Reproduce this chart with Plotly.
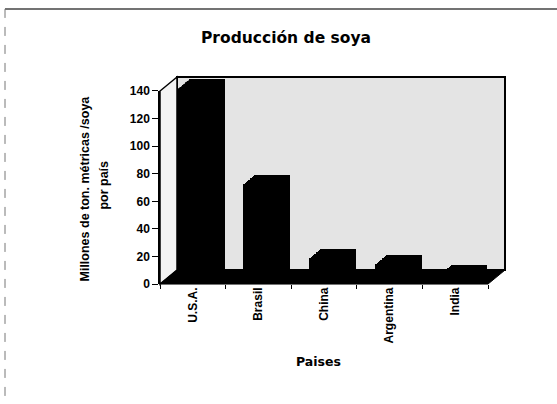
import plotly.graph_objects as go

# ---- data ----
categorias = ["U.S.A.", "Brasil", "China", "Argentina", "India"]
produccion = [150, 70.5, 16.7, 12.6, 5]          # U.S.A. exceeds the 140 axis top (clipped)
y_ticks = [0, 20, 40, 60, 80, 100, 120, 140]
titulo = "Producción de soya"
titulo_y = ["Millones de ton. métricas /soya", "por país"]
titulo_x = "Paises"

# ---- geometry (pixels in the 557x404 page) ----
W, H = 557, 404
X0, X1 = 160, 488      # front floor edge, left/right
Y0, Y1 = 287, 87       # front zero line / top of 140
DX, DY = 17, 14.5      # depth offset of the back wall
T_FRONT, T_BACK = 0.15, 0.85
N = 16
FONT = "Liberation Sans, Arial, sans-serif"
FONT_HEAVY = "DejaVu Sans, Liberation Sans, sans-serif"


def px(x):
    return x / W


def py(y):
    return 1 - y / H


xs = list(range(len(categorias)))
fig = go.Figure()

# front axis carrier (invisible)
fig.add_trace(go.Scatter(x=xs, y=produccion, mode="markers", marker=dict(opacity=0),
                         hoverinfo="skip", showlegend=False, cliponaxis=True))

axes = {}
for k in range(N):
    t = T_BACK - (T_BACK - T_FRONT) * k / (N - 1)
    i = k + 2
    fig.add_trace(go.Bar(x=xs, y=produccion, xaxis=f"x{i}", yaxis=f"y{i}", width=0.55,
                         marker=dict(color="black", line=dict(width=0)),
                         showlegend=False, hoverinfo="skip"))
    axes[f"xaxis{i}"] = dict(domain=[px(X0 + DX * t), px(X1 + DX * t)], range=[-0.5, 4.5],
                             visible=False, anchor=f"y{i}", fixedrange=True)
    axes[f"yaxis{i}"] = dict(domain=[py(Y0 - DY * t), py(Y1 - DY * t)], range=[0, 140],
                             visible=False, anchor=f"x{i}", fixedrange=True)

shapes = [
    # back wall
    dict(type="rect", xref="paper", yref="paper", layer="below",
         x0=px(X0 + DX), x1=px(X1 + DX), y0=py(Y0 - DY), y1=py(Y1 - DY),
         fillcolor="#e4e4e4", line=dict(color="black", width=2)),
    # left side wall
    dict(type="path", xref="paper", yref="paper", layer="below",
         path=f"M {px(X0)} {py(Y0)} L {px(X0)} {py(Y1)} L {px(X0+DX)} {py(Y1-DY)} L {px(X0+DX)} {py(Y0-DY)} Z",
         fillcolor="#f3f3f3", line=dict(color="black", width=1.5)),
    # floor
    dict(type="path", xref="paper", yref="paper", layer="below",
         path=f"M {px(X0)} {py(Y0)} L {px(X1)} {py(Y0)} L {px(X1+DX)} {py(Y0-DY)} L {px(X0+DX)} {py(Y0-DY)} Z",
         fillcolor="black", line=dict(color="black", width=1)),
    # page frame
    dict(type="line", xref="paper", yref="paper", x0=px(5), x1=1, y0=py(2), y1=py(2),
         line=dict(color="#444444", width=1.5)),
    dict(type="line", xref="paper", yref="paper", x0=px(5), x1=px(5), y0=py(2), y1=0,
         line=dict(color="#777777", width=1, dash="dash")),
]

annotations = [
    dict(text=f"<b>{titulo_y[0]}</b>", textangle=-90, xref="paper", yref="paper",
         x=px(85), y=py(188), xanchor="center", yanchor="middle", showarrow=False,
         font=dict(family=FONT, size=12.5, color="black")),
    dict(text=f"<b>{titulo_y[1]}</b>", textangle=-90, xref="paper", yref="paper",
         x=px(104), y=py(185), xanchor="center", yanchor="middle", showarrow=False,
         font=dict(family=FONT, size=12.5, color="black")),
    dict(text=f"<b>{titulo_x}</b>", xref="paper", yref="paper",
         x=px(318), y=py(367), xanchor="center", yanchor="middle", showarrow=False,
         font=dict(family=FONT_HEAVY, size=12.5, color="black")),
]

fig.update_layout(
    width=W, height=H,
    margin=dict(l=0, r=0, t=0, b=0),
    paper_bgcolor="white", plot_bgcolor="rgba(0,0,0,0)",
    title=dict(text=f"<b>{titulo}</b>", x=px(286), y=py(38), xanchor="center", yanchor="middle",
               font=dict(family=FONT_HEAVY, size=15.5, color="black")),
    font=dict(family=FONT, color="black"),
    showlegend=False,
    bargap=0,
    xaxis=dict(domain=[px(X0), px(X1)], range=[-0.5, 4.5], tickmode="array", tickvals=xs,
               ticktext=categorias, tickangle=-90, ticks="", showgrid=False, zeroline=False,
               showline=False, fixedrange=True,
               tickfont=dict(family=FONT, size=12, color="black", weight="bold"),
               minor=dict(tickmode="array", tickvals=[v - 0.5 for v in xs] + [xs[-1] + 0.5],
                          ticks="outside", ticklen=4, tickcolor="black", showgrid=False)),
    yaxis=dict(domain=[py(Y0), py(Y1)], range=[0, 140], tickmode="array", tickvals=y_ticks,
               ticks="outside", ticklen=6, tickcolor="black", tickwidth=1.2,
               showline=True, linecolor="black", linewidth=1.5, showgrid=False,
               zeroline=False, fixedrange=True,
               tickfont=dict(family=FONT, size=12, color="black", weight="bold")),
    shapes=shapes,
    annotations=annotations,
    **axes,
)

fig.write_html("out.html", config={"displayModeBar": False},
               post_script="document.body.style.margin='0px';")
